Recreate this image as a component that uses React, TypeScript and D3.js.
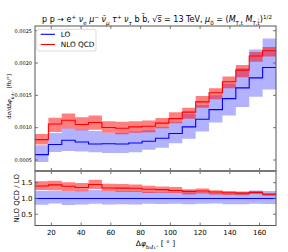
import React from "react";
import * as d3 from "d3";

// bin edges in degrees (18 bins of 9 deg)
const binEdges = [9, 18, 27, 36, 45, 54, 63, 72, 81, 90, 99, 108, 117, 126, 135, 144, 153, 162, 171];

const loCentral = [0.000584, 0.000739, 0.000805, 0.000779, 0.000748, 0.000752, 0.000748, 0.000764, 0.00079, 0.000836, 0.000909, 0.001012, 0.00113, 0.00128, 0.00145, 0.001616, 0.00177, 0.00193];
const loUp = [0.000728, 0.000919, 0.000991, 0.00097, 0.00095, 0.00092, 0.00092, 0.00094, 0.00096, 0.00101, 0.00109, 0.00121, 0.00135, 0.0015, 0.00168, 0.00192, 0.00221, 0.00238];
const loDown = [0.000469, 0.000624, 0.00064, 0.00063, 0.00062, 0.00061, 0.00061, 0.00062, 0.00066, 0.00069, 0.00076, 0.00083, 0.00094, 0.00108, 0.00119, 0.00132, 0.00148, 0.00159];

const nloCentral = [0.000816, 0.001058, 0.001116, 0.00105, 0.00108, 0.001002, 0.000992, 0.001012, 0.001022, 0.00107, 0.00114, 0.00124, 0.0014, 0.00154, 0.00171, 0.00189, 0.00211, 0.00219];
const nloUp = [0.000903, 0.001155, 0.00122, 0.00116, 0.00119, 0.0011, 0.00109, 0.0011, 0.00111, 0.00115, 0.00124, 0.00131, 0.00149, 0.00161, 0.00179, 0.00197, 0.00217, 0.00225];
const nloDown = [0.000739, 0.000934, 0.000987, 0.00096, 0.00097, 0.00092, 0.0009, 0.00092, 0.00093, 0.00099, 0.00107, 0.00114, 0.00131, 0.00144, 0.00161, 0.00178, 0.00202, 0.0021];

const xTicks = [20, 40, 60, 80, 100, 120, 140, 160];
const yTicksTop = [0.0005, 0.001, 0.0015, 0.002, 0.0025];
const yTicksRatio = [0.5, 1.0, 1.5];

const W = 288, H = 252;
const left = 35, right = 276;
const topY = 26, midY = 171, botY = 225.5;
const font = "DejaVu Sans, sans-serif";
const axisColor = "#555";

const x = d3.scaleLinear().domain([9, 171]).range([left, right]);
const y = d3.scaleLinear().domain([0.00033, 0.002573]).range([midY, topY]);
const yr = d3.scaleLinear().domain([0.144, 1.87]).range([botY, midY]);

type Pt = { x: number; lo: number; hi: number };

// step-post points, last value repeated at the closing edge
function steps(lo: number[], hi: number[]): Pt[] {
  return binEdges.map((e, i) => {
    const k = Math.min(i, lo.length - 1);
    return { x: e, lo: lo[k], hi: hi[k] };
  });
}

function bandPath(lo: number[], hi: number[], ys: d3.ScaleLinear<number, number>) {
  return d3.area<Pt>()
    .x(d => x(d.x))
    .y0(d => ys(d.lo))
    .y1(d => ys(d.hi))
    .curve(d3.curveStepAfter)(steps(lo, hi)) || "";
}

function linePath(v: number[], ys: d3.ScaleLinear<number, number>) {
  return d3.line<Pt>()
    .x(d => x(d.x))
    .y(d => ys(d.hi))
    .curve(d3.curveStepAfter)(steps(v, v)) || "";
}

const ratio = (a: number[]) => a.map((v, i) => v / loCentral[i]);

function Frame({ y0, y1 }: { y0: number; y1: number }) {
  return <rect x={left} y={y0} width={right - left} height={y1 - y0} fill="none" stroke={axisColor} strokeWidth={1} />;
}

function XTicks({ y0, y1 }: { y0: number; y1: number }) {
  return (
    <g stroke={axisColor} strokeWidth={0.8}>
      {xTicks.map(t => (
        <g key={t}>
          <line x1={x(t)} x2={x(t)} y1={y1} y2={y1 - 3} />
          <line x1={x(t)} x2={x(t)} y1={y0} y2={y0 + 3} />
        </g>
      ))}
    </g>
  );
}

export default function App() {
  const sub = { baselineShift: "sub", fontSize: "70%" } as any;
  const sup = { baselineShift: "super", fontSize: "70%" } as any;
  return (
    <svg width={W} height={H} style={{ position: "absolute", left: 0, top: 0, background: "#fff" }} fontFamily={font}>
      {/* title */}
      <text x={157} y={21.5} fontSize={8} textAnchor="middle" fill="#000">
        <tspan>p p → e</tspan><tspan style={sup}>+</tspan>
        <tspan fontStyle="italic"> ν</tspan><tspan style={sub}>e</tspan>
        <tspan fontStyle="italic"> μ</tspan><tspan style={sup}>−</tspan>
        <tspan fontStyle="italic"> ν̄</tspan><tspan style={sub} fontStyle="italic">μ</tspan>
        <tspan fontStyle="italic"> τ</tspan><tspan style={sup}>+</tspan>
        <tspan fontStyle="italic"> ν</tspan><tspan style={sub} fontStyle="italic">τ</tspan>
        <tspan> b b̄, √s̅ = 13 TeV, </tspan>
        <tspan fontStyle="italic">μ</tspan><tspan style={sub}>0</tspan>
        <tspan> = (</tspan><tspan fontStyle="italic">M</tspan><tspan style={sub}>T,t</tspan>
        <tspan fontStyle="italic"> M</tspan><tspan style={sub}>T,t̄</tspan>
        <tspan>)</tspan><tspan style={sup}>1/2</tspan>
      </text>

      {/* upper panel */}
      <path d={bandPath(loDown, loUp, y)} fill="blue" fillOpacity={0.3} />
      <path d={bandPath(nloDown, nloUp, y)} fill="red" fillOpacity={0.5} />
      <path d={linePath(loCentral, y)} fill="none" stroke="blue" strokeWidth={1.1} />
      <path d={linePath(nloCentral, y)} fill="none" stroke="red" strokeWidth={1.1} />
      <Frame y0={topY} y1={midY} />
      <XTicks y0={topY} y1={midY} />
      <g stroke={axisColor} strokeWidth={0.8}>
        {yTicksTop.map(t => (
          <g key={t}>
            <line x1={left} x2={left + 3} y1={y(t)} y2={y(t)} />
            <line x1={right} x2={right - 3} y1={y(t)} y2={y(t)} />
          </g>
        ))}
      </g>
      {yTicksTop.map(t => (
        <text key={t} x={32} y={y(t) + 1.8} fontSize={5} textAnchor="end" fill="#000">{d3.format(".4f")(t)}</text>
      ))}
      <text transform={`translate(11,${(topY + midY) / 2 - 2}) rotate(-90)`} fontSize={5.5} textAnchor="middle" fill="#000">
        <tspan>d</tspan><tspan fontStyle="italic">σ</tspan><tspan>/dΔ</tspan><tspan fontStyle="italic">φ</tspan>
        <tspan style={sub}>b₁ℓ₁⁺</tspan><tspan> [fb/°]</tspan>
      </text>

      {/* legend */}
      <rect x={36.7} y={29.3} width={59.3} height={21.7} rx={2} fill="#fff" fillOpacity={0.8} stroke="#ccc" strokeWidth={0.7} />
      <line x1={40.7} x2={55} y1={34.3} y2={34.3} stroke="blue" strokeWidth={1.1} />
      <text x={60.7} y={37} fontSize={7.3} fill="#000">LO</text>
      <line x1={40.7} x2={55} y1={44.5} y2={44.5} stroke="red" strokeWidth={1.1} />
      <text x={60.7} y={47.2} fontSize={7.3} fill="#000">NLO QCD</text>

      {/* ratio panel */}
      <path d={bandPath(ratio(loDown), ratio(loUp), yr)} fill="blue" fillOpacity={0.3} />
      <path d={bandPath(ratio(nloDown), ratio(nloUp), yr)} fill="red" fillOpacity={0.5} />
      <path d={linePath(ratio(loCentral), yr)} fill="none" stroke="blue" strokeWidth={1.1} />
      <path d={linePath(ratio(nloCentral), yr)} fill="none" stroke="red" strokeWidth={1.1} />
      <Frame y0={midY} y1={botY} />
      <XTicks y0={midY} y1={botY} />
      <line x1={left} x2={right} y1={midY} y2={midY} stroke="#777" strokeWidth={2} />
      <g stroke={axisColor} strokeWidth={0.8}>
        {yTicksRatio.map(t => (
          <g key={t}>
            <line x1={left} x2={left + 3} y1={yr(t)} y2={yr(t)} />
            <line x1={right} x2={right - 3} y1={yr(t)} y2={yr(t)} />
          </g>
        ))}
      </g>
      {yTicksRatio.map(t => (
        <text key={t} x={32.5} y={yr(t) + 2.5} fontSize={7} textAnchor="end" fill="#000">{d3.format(".1f")(t)}</text>
      ))}
      <text transform={`translate(19,${(midY + botY) / 2}) rotate(-90)`} fontSize={7} textAnchor="middle" fill="#000">NLO QCD / LO</text>

      {/* x axis labels */}
      {xTicks.map(t => (
        <text key={t} x={x(t)} y={234.5} fontSize={7} textAnchor="middle" fill="#000">{t}</text>
      ))}
      <text x={(left + right) / 2} y={246} fontSize={7.5} textAnchor="middle" fill="#000">
        <tspan>Δ</tspan><tspan fontStyle="italic">φ</tspan><tspan style={sub}>b₁ℓ₁⁺</tspan><tspan> [ ° ]</tspan>
      </text>
    </svg>
  );
}
